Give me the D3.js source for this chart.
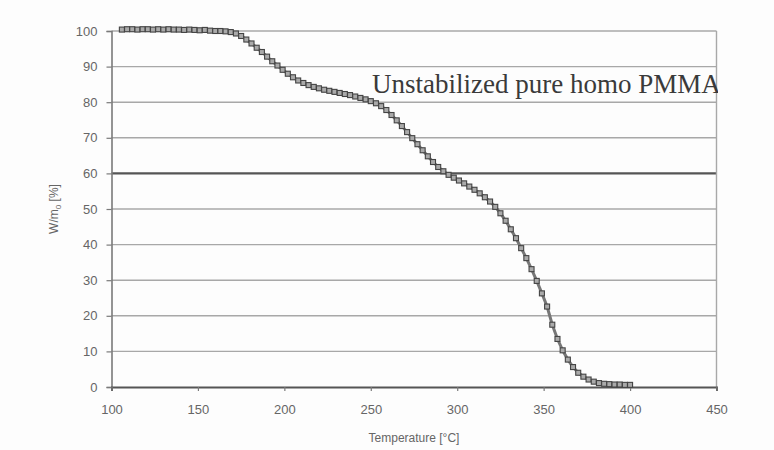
<!DOCTYPE html>
<html>
<head>
<meta charset="utf-8">
<script src="https://cdn.jsdelivr.net/npm/d3@7"></script>
<style>
  body { margin: 0; background: #fff; }
  svg { display: block; }
</style>
</head>
<body>
<div id="chart"></div>
<script>
// temperature [°C] and remaining mass W/m0 [%]
var temps = [106, 109, 112, 115, 118, 121, 124, 127, 130, 133, 136, 139, 142, 145, 148,
  151, 154, 157, 160, 163, 166, 169, 172, 175, 178, 181, 184, 187, 190, 193, 196, 199,
  202, 205, 208, 211, 214, 217, 220, 223, 226, 229, 232, 235, 238, 241, 244, 247, 250,
  253, 256, 259, 262, 265, 268, 271, 274, 277, 280, 283, 286, 289, 292, 295, 298, 301,
  304, 307, 310, 313, 316, 319, 322, 325, 328, 331, 334, 337, 340, 343, 346, 349, 352,
  355, 358, 361, 364, 367, 370, 373, 376, 379, 382, 385, 388, 391, 394, 397, 400];
var mass = [100.4, 100.5, 100.5, 100.4, 100.5, 100.5, 100.4, 100.5, 100.4, 100.5, 100.4,
  100.4, 100.3, 100.4, 100.3, 100.2, 100.3, 100.1, 100.0, 100.0, 99.9, 99.7, 99.3, 98.6,
  97.6, 96.5, 95.3, 94.1, 92.8, 91.5, 90.3, 89.1, 88.0, 87.0, 86.1, 85.4, 84.8, 84.3,
  83.9, 83.5, 83.2, 82.9, 82.6, 82.3, 82.0, 81.6, 81.2, 80.8, 80.3, 79.7, 78.9, 77.8,
  76.4, 74.9, 73.3, 71.6, 69.9, 68.2, 66.5, 64.8, 63.2, 61.8, 60.6, 59.6, 58.8, 58.0,
  57.2, 56.3, 55.4, 54.4, 53.3, 52.1, 50.6, 48.8, 46.7, 44.3, 41.8, 39.0, 36.2, 33.1,
  29.8, 26.3, 22.6, 17.5, 13.5, 10.3, 7.7, 5.6, 4.0, 2.9, 2.1, 1.5, 1.1, 0.9, 0.8, 0.7,
  0.7, 0.6, 0.6];
var xTicks = [100, 150, 200, 250, 300, 350, 400, 450];
var yTicks = [0, 10, 20, 30, 40, 50, 60, 70, 80, 90, 100];
var highlightLevel = 60;
var title = "Unstabilized pure homo PMMA";

var W = 774, H = 450;
var plotL = 111.5, plotR = 716.5, plotT = 31, plotB = 387;

var svg = d3.select("#chart").append("svg")
    .attr("width", W)
    .attr("height", H);

svg.append("rect").attr("width", W).attr("height", H).attr("fill", "#fdfdfd");

var x = d3.scaleLinear().domain([100, 450]).range([plotL, plotR]);
var y = d3.scaleLinear().domain([0, 100]).range([plotB, plotT]);

// horizontal grid
svg.append("g").selectAll("line")
    .data(yTicks.filter(function(d) { return d > 0; }))
    .enter().append("line")
    .attr("x1", plotL).attr("x2", plotR)
    .attr("y1", function(d) { return y(d); })
    .attr("y2", function(d) { return y(d); })
    .attr("stroke", function(d) { return d === highlightLevel ? "#555" : "#a8a8a8"; })
    .attr("stroke-width", function(d) { return d === highlightLevel ? 2.2 : 1.4; });

// right border
svg.append("line")
    .attr("x1", plotR).attr("x2", plotR).attr("y1", plotT).attr("y2", plotB)
    .attr("stroke", "#a8a8a8").attr("stroke-width", 1.4);

var yAxis = svg.append("g")
    .attr("transform", "translate(" + plotL + ",0)")
    .call(d3.axisLeft(y).tickValues(yTicks).tickSize(5).tickPadding(9));
var xAxis = svg.append("g")
    .attr("transform", "translate(0," + plotB + ")")
    .call(d3.axisBottom(x).tickValues(xTicks).tickSize(4).tickPadding(14));

[xAxis, yAxis].forEach(function(a) {
  a.select(".domain").attr("stroke", "#7a7a7a").attr("stroke-width", 1.6);
  a.selectAll(".tick line").attr("stroke", "#7a7a7a").attr("stroke-width", 1.2);
  a.selectAll("text")
      .attr("fill", "#666")
      .style("font-family", "'Liberation Sans', Arial, sans-serif")
      .style("font-size", "13px");
});
xAxis.select(".domain").attr("stroke", "#555").attr("stroke-width", 2);

// data markers, dense enough to read as a thick band
var pts = temps.map(function(t, i) { return [t, mass[i]]; });
svg.append("path")
    .datum(pts)
    .attr("fill", "none")
    .attr("stroke", "#777")
    .attr("stroke-width", 3)
    .attr("d", d3.line().x(function(d) { return x(d[0]); }).y(function(d) { return y(d[1]); }));
svg.append("g").selectAll("rect")
    .data(pts)
    .enter().append("rect")
    .attr("x", function(d) { return x(d[0]) - 2.5; })
    .attr("y", function(d) { return y(d[1]) - 2.5; })
    .attr("width", 5).attr("height", 5)
    .attr("fill", "#aaa")
    .attr("stroke", "#444")
    .attr("stroke-width", 1.1);

// axis titles
svg.append("text")
    .attr("x", (plotL + plotR) / 2).attr("y", 442)
    .attr("text-anchor", "middle")
    .attr("fill", "#666")
    .style("font-family", "'Liberation Sans', Arial, sans-serif")
    .style("font-size", "12px")
    .text("Temperature [°C]");

var yl = svg.append("text")
    .attr("transform", "translate(58,209) rotate(-90)")
    .attr("text-anchor", "middle")
    .attr("fill", "#666")
    .style("font-family", "'Liberation Sans', Arial, sans-serif")
    .style("font-size", "12px");
yl.append("tspan").text("W/m");
yl.append("tspan").attr("font-size", "8px").attr("dy", 3).text("0");
yl.append("tspan").attr("dy", -3).text(" [%]");

// annotation, cut at the plot's right edge
svg.append("clipPath").attr("id", "clip")
  .append("rect").attr("x", 0).attr("y", 0).attr("width", plotR + 1.5).attr("height", H);
svg.append("text")
    .attr("clip-path", "url(#clip)")
    .attr("x", 372).attr("y", 93)
    .attr("fill", "#3a3a3a")
    .style("font-family", "'Liberation Serif', 'Times New Roman', serif")
    .style("font-size", "27px")
    .text(title);
</script>
</body>
</html>
